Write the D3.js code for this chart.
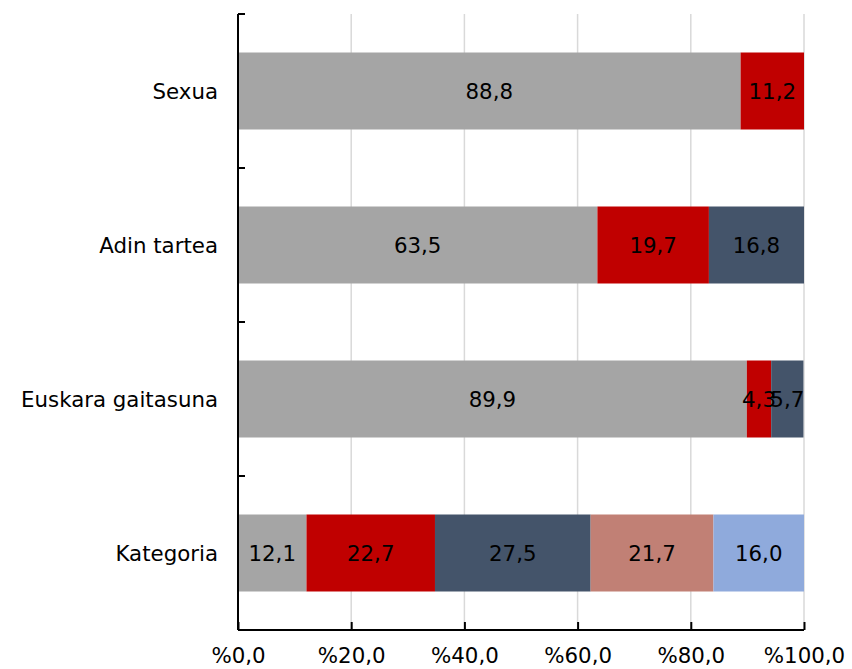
<!DOCTYPE html>
<html>
<head>
<meta charset="utf-8">
<script src="https://cdn.jsdelivr.net/npm/d3@7"></script>
<style>
  html, body { margin: 0; padding: 0; background: #fff; }
  svg text { font-family: "DejaVu Sans", Verdana, sans-serif; }
</style>
</head>
<body>
<svg id="chart" width="852" height="669"></svg>
<script>
const categories = ["Sexua", "Adin tartea", "Euskara gaitasuna", "Kategoria"];
const series1 = [88.8, 63.5, 89.9, 12.1];
const series2 = [11.2, 19.7, 4.3, 22.7];
const series3 = [0, 16.8, 5.7, 27.5];
const series4 = [0, 0, 0, 21.7];
const series5 = [0, 0, 0, 16.0];
const seriesColors = ["#A5A5A5", "#C00000", "#44546A", "#C18075", "#8FAADC"];
const xTicks = [0, 20, 40, 60, 80, 100];

const allSeries = [series1, series2, series3, series4, series5];
const rows = categories.map((c, i) => {
  const r = { cat: c };
  allSeries.forEach((s, k) => r["s" + k] = s[i]);
  return r;
});
const keys = allSeries.map((s, k) => "s" + k);
const stacked = d3.stack().keys(keys)(rows);

const svg = d3.select("#chart");
const mLeft = 238, mRight = 804, mTop = 14, mBottom = 630;
const x = d3.scaleLinear().domain([0, 100]).range([mLeft, mRight]);
const y = d3.scaleBand().domain(categories).range([mTop, mBottom]).paddingInner(0.5).paddingOuter(0.25);
const fs = "21.33px";

// gridlines
svg.append("g").selectAll("line").data(xTicks.filter(d => d > 0)).join("line")
  .attr("x1", d => x(d)).attr("x2", d => x(d))
  .attr("y1", mTop).attr("y2", mBottom)
  .attr("stroke", "#D9D9D9").attr("stroke-width", 1.5);

// bars
const g = svg.append("g");
stacked.forEach((layer, k) => {
  g.append("g").selectAll("rect").data(layer.filter(d => d[1] - d[0] > 0)).join("rect")
    .attr("x", d => x(d[0]))
    .attr("width", d => x(d[1]) - x(d[0]))
    .attr("y", d => y(d.data.cat))
    .attr("height", y.bandwidth())
    .attr("fill", seriesColors[k]);
});
stacked.forEach((layer, k) => {
  g.append("g").selectAll("text").data(layer.filter(d => d[1] - d[0] > 0)).join("text")
    .attr("x", d => (x(d[0]) + x(d[1])) / 2)
    .attr("y", d => y(d.data.cat) + y.bandwidth() / 2)
    .attr("dy", "0.36em")
    .attr("text-anchor", "middle")
    .attr("font-size", fs)
    .attr("fill", "#000")
    .text(d => d3.format(".1f")(d[1] - d[0]).replace(".", ","));
});

// left axis
const yEdges = d3.range(categories.length + 1).map(i => mTop + i * (mBottom - mTop) / categories.length);
svg.append("line").attr("x1", mLeft).attr("x2", mLeft).attr("y1", mTop).attr("y2", mBottom)
  .attr("stroke", "#000").attr("stroke-width", 2);
svg.append("g").selectAll("line").data(yEdges).join("line")
  .attr("x1", mLeft).attr("x2", mLeft + 7).attr("y1", d => d).attr("y2", d => d)
  .attr("stroke", "#000").attr("stroke-width", 2);
svg.append("g").selectAll("text").data(categories).join("text")
  .attr("x", 218)
  .attr("y", d => y(d) + y.bandwidth() / 2)
  .attr("dy", "0.36em")
  .attr("text-anchor", "end")
  .attr("font-size", fs)
  .attr("fill", "#000")
  .text(d => d);

// bottom axis
const xAxis = d3.axisBottom(x).tickValues(xTicks).tickSize(-8).tickPadding(18)
  .tickFormat(d => "%" + d3.format(".1f")(d).replace(".", ","));
const ax = svg.append("g").attr("transform", `translate(0,${mBottom})`).call(xAxis);
ax.select(".domain").attr("stroke", "#000").attr("stroke-width", 2).attr("d", `M${mLeft},0H${mRight}`);
ax.selectAll(".tick line").attr("stroke", "#000").attr("stroke-width", 2);
ax.selectAll(".tick text").attr("font-size", fs).attr("fill", "#000")
  .attr("font-family", '"DejaVu Sans", Verdana, sans-serif');
</script>
</body>
</html>
